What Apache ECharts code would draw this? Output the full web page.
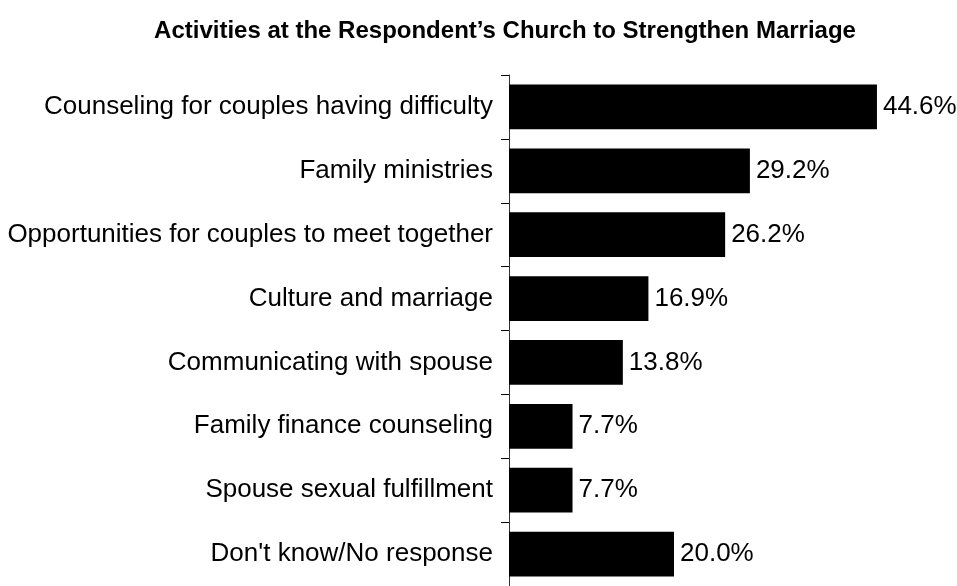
<!DOCTYPE html>
<html>
<head>
<meta charset="utf-8">
<script src="https://cdn.jsdelivr.net/npm/echarts@6/dist/echarts.min.js"></script>
<style>html,body{margin:0;padding:0;background:#fff}#c{width:957px;height:586px}</style>
</head>
<body>
<div id="c"></div>
<script>
const titleText = "Activities at the Respondent\u2019s Church to Strengthen Marriage";
const categories = [
  "Counseling for couples having difficulty",
  "Family ministries",
  "Opportunities for couples to meet together",
  "Culture and marriage",
  "Communicating with spouse",
  "Family finance counseling",
  "Spouse sexual fulfillment",
  "Don't know/No response"
];
const values = [44.6, 29.2, 26.2, 16.9, 13.8, 7.7, 7.7, 20.0];

const chart = echarts.init(document.getElementById('c'), null, {renderer: 'canvas'});
chart.setOption({
  animation: false,
  backgroundColor: '#ffffff',
  title: {
    text: titleText,
    left: 500,
    textAlign: 'center',
    top: 14,
    textStyle: {fontFamily: 'Liberation Sans, Arial, sans-serif', fontWeight: 'bold', fontSize: 24, color: '#000'}
  },
  grid: {left: 509, top: 75, width: 412.5, height: 515, containLabel: false},
  xAxis: {
    type: 'value', min: 0, max: 50, show: false
  },
  yAxis: {
    type: 'category',
    data: categories,
    inverse: true,
    axisLine: {show: true, lineStyle: {color: '#333', width: 1}},
    axisTick: {show: true, length: 8, lineStyle: {color: '#000'}},
    axisLabel: {margin: 16, fontFamily: 'Liberation Sans, Arial, sans-serif', fontSize: 26, color: '#000'}
  },
  series: [{
    type: 'bar',
    data: values,
    barCategoryGap: '30%',
    itemStyle: {color: '#000'},
    label: {
      show: true, position: 'right', distance: 6,
      formatter: p => p.value.toFixed(1) + '%',
      fontFamily: 'Liberation Sans, Arial, sans-serif', fontSize: 26, color: '#000'
    }
  }]
});
</script>
</body>
</html>
